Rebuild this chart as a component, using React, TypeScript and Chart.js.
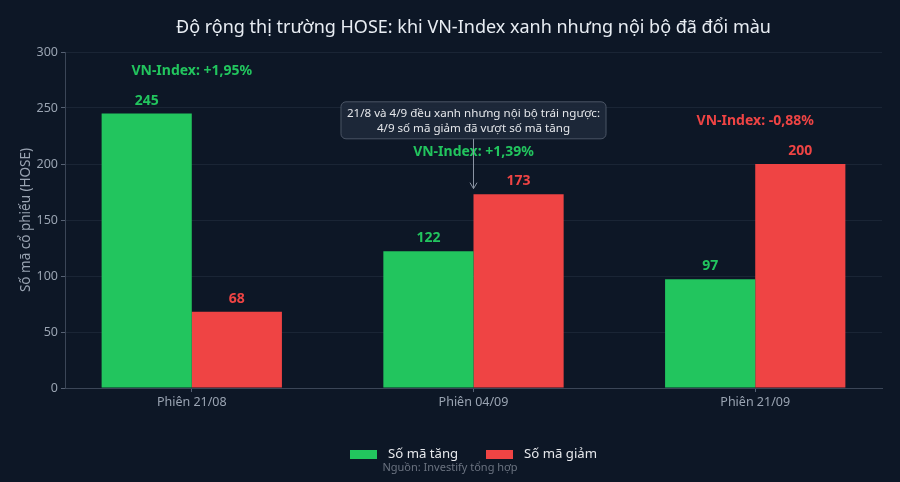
import React, { useEffect, useRef } from 'react';
import { Chart, registerables } from 'chart.js';

Chart.register(...registerables);

// Dữ liệu độ rộng thị trường HOSE
const categories = ['Phiên 21/08', 'Phiên 04/09', 'Phiên 21/09'];
const advancers = [245, 122, 97];
const decliners = [68, 173, 200];
const vnIndexLabels = ['VN-Index: +1,95%', 'VN-Index: +1,39%', 'VN-Index: -0,88%'];
const vnIndexUp = [true, true, false];
const noteLines = ['21/8 và 4/9 đều xanh nhưng nội bộ trái ngược:', '4/9 số mã giảm đã vượt số mã tăng'];

const TITLE = 'Độ rộng thị trường HOSE: khi VN-Index xanh nhưng nội bộ đã đổi màu';
const Y_TITLE = 'Số mã cổ phiếu (HOSE)';
const SOURCE = 'Nguồn: Investify tổng hợp';
const LEGEND = ['Số mã tăng', 'Số mã giảm'];

const BG = '#0d1726';
const GREEN = '#22c55e';
const RED = '#ef4444';
const TICK = '#9aa4b2';
const FONT = '"Noto Sans", "Open Sans", sans-serif';

const overlayPlugin = {
  id: 'overlay',
  beforeDraw(chart: any) {
    const { ctx, width, height } = chart;
    ctx.save();
    ctx.fillStyle = BG;
    ctx.fillRect(0, 0, width, height);
    ctx.restore();
  },
  afterDatasetsDraw(chart: any) {
    const { ctx, chartArea } = chart;
    const x = chart.scales.x;
    const y = chart.scales.y;
    ctx.save();

    // title
    ctx.fillStyle = '#e8edf3';
    ctx.font = `18px ${FONT}`;
    ctx.textAlign = 'center';
    ctx.textBaseline = 'middle';
    ctx.fillText(TITLE, (chartArea.left + chartArea.right) / 2, 28);

    // y title
    ctx.save();
    ctx.translate(26, (chartArea.top + chartArea.bottom) / 2);
    ctx.rotate(-Math.PI / 2);
    ctx.fillStyle = TICK;
    ctx.font = `13.5px ${FONT}`;
    ctx.fillText(Y_TITLE, 0, 0);
    ctx.restore();

    // value labels
    ctx.font = `bold 14px ${FONT}`;
    ctx.textBaseline = 'bottom';
    [advancers, decliners].forEach((vals, di) => {
      const meta = chart.getDatasetMeta(di);
      ctx.fillStyle = di === 0 ? GREEN : RED;
      vals.forEach((v, i) => {
        const bar = meta.data[i];
        ctx.fillText(String(v), bar.x, bar.y - 6);
      });
    });

    // VN-Index labels
    ctx.textBaseline = 'middle';
    vnIndexLabels.forEach((t, i) => {
      ctx.fillStyle = vnIndexUp[i] ? GREEN : RED;
      const top = Math.max(advancers[i], decliners[i]) + 38;
      ctx.fillText(t, x.getPixelForValue(i), y.getPixelForValue(top));
    });

    // note box + arrow
    const cx = x.getPixelForValue(1);
    const cy = y.getPixelForValue(239);
    ctx.font = `11.6px ${FONT}`;
    const w = Math.max(...noteLines.map(l => ctx.measureText(l).width)) + 12;
    const h = 37;
    const bx = cx - w / 2;
    const by = cy - h / 2;
    ctx.beginPath();
    ctx.roundRect(bx, by, w, h, 5);
    ctx.fillStyle = 'rgba(30, 41, 59, 0.9)';
    ctx.fill();
    ctx.strokeStyle = '#4b5565';
    ctx.lineWidth = 1;
    ctx.stroke();
    ctx.fillStyle = '#e5e7eb';
    ctx.fillText(noteLines[0], cx, cy - 7);
    ctx.fillText(noteLines[1], cx, cy + 8);

    const tipY = y.getPixelForValue(178);
    ctx.strokeStyle = '#8a94a3';
    ctx.beginPath();
    ctx.moveTo(cx, by + h);
    ctx.lineTo(cx, tipY);
    ctx.stroke();
    ctx.beginPath();
    ctx.moveTo(cx - 3.5, tipY - 6);
    ctx.lineTo(cx, tipY);
    ctx.lineTo(cx + 3.5, tipY - 6);
    ctx.stroke();

    // legend
    ctx.font = `13.2px ${FONT}`;
    ctx.textAlign = 'left';
    const legY = 454.5;
    const items = [
      { c: GREEN, t: LEGEND[0], x0: 350 },
      { c: RED, t: LEGEND[1], x0: 486 },
    ];
    items.forEach(it => {
      ctx.fillStyle = it.c;
      ctx.fillRect(it.x0, legY - 4.5, 27, 9);
      ctx.fillStyle = '#e5e7eb';
      ctx.fillText(it.t, it.x0 + 38, legY);
    });

    // source
    ctx.font = `11px ${FONT}`;
    ctx.textAlign = 'center';
    ctx.fillStyle = '#6b7380';
    ctx.fillText(SOURCE, 450, 468);

    ctx.restore();
  },
};

export default function App() {
  const canvasRef = useRef<HTMLCanvasElement | null>(null);

  useEffect(() => {
    document.body.style.margin = '0';
    document.body.style.background = BG;
    if (!canvasRef.current) return;

    const chart = new Chart(canvasRef.current, {
      type: 'bar',
      data: {
        datasets: [
          {
            label: LEGEND[0],
            data: advancers.map((v, i) => ({ x: i, y: v })),
            backgroundColor: GREEN,
            borderWidth: 0,
          },
          {
            label: LEGEND[1],
            data: decliners.map((v, i) => ({ x: i, y: v })),
            backgroundColor: RED,
            borderWidth: 0,
          },
        ],
      },
      options: {
        responsive: false,
        animation: false,
        layout: { padding: { top: 52, right: 18, bottom: 0, left: 0 } },
        datasets: { bar: { categoryPercentage: 0.64, barPercentage: 1 } },
        plugins: { legend: { display: false }, tooltip: { enabled: false }, title: { display: false } },
        scales: {
          x: {
            type: 'linear',
            min: -0.45,
            max: 2.45,
            offset: false,
            afterFit: (axis: any) => { axis.height = 94; },
            afterBuildTicks: (axis: any) => {
              axis.ticks = categories.map((_, i) => ({ value: i }));
            },
            grid: { offset: false, drawOnChartArea: false, drawTicks: true, tickLength: 4, tickColor: '#566173' },
            border: { color: '#3b4657' },
            ticks: {
              color: TICK,
              font: { family: FONT, size: 12.5 },
              padding: 3,
              callback: (v: any) => categories[v] ?? '',
            },
          },
          y: {
            min: 0,
            max: 300,
            afterFit: (axis: any) => { axis.width = 65; },
            grid: { color: 'rgba(148, 163, 184, 0.10)', tickLength: 4, tickColor: '#566173' },
            border: { color: '#3b4657' },
            ticks: {
              stepSize: 50,
              color: TICK,
              font: { family: FONT, size: 12.5 },
              padding: 3,
            },
          },
        },
      },
      plugins: [overlayPlugin],
    });

    return () => chart.destroy();
  }, []);

  return (
    <div style={{ width: 900, height: 482, background: BG }}>
      <canvas ref={canvasRef} width={900} height={482} style={{ display: 'block' }} />
    </div>
  );
}
